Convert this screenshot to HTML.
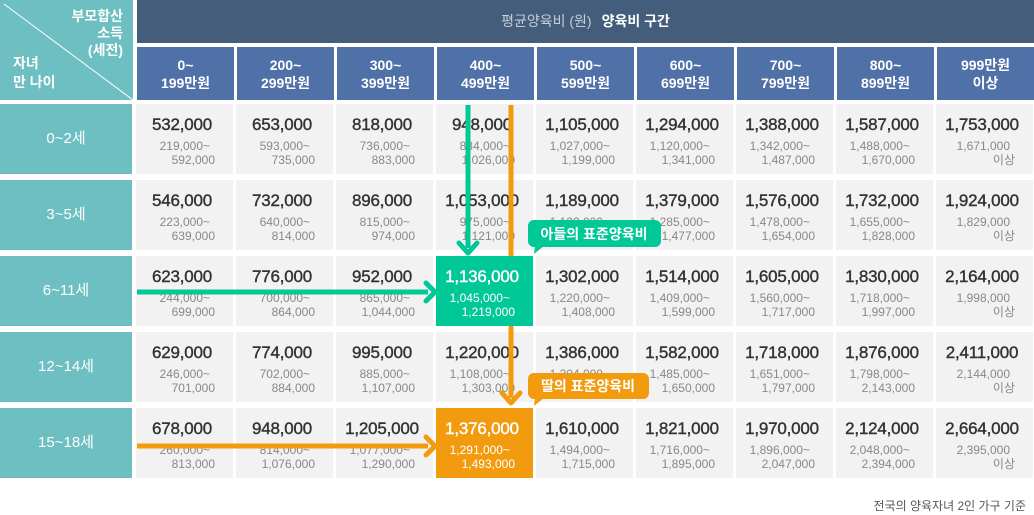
<!DOCTYPE html>
<html><head><meta charset="utf-8"><style>
body{margin:0;width:1034px;height:515px;background:#fff;position:relative;overflow:hidden;font-family:"Liberation Sans","Noto Sans CJK KR",sans-serif}
.a{position:absolute}
.top{left:137px;top:0;width:897px;height:43px;background:#435d7b;color:#fff;text-align:center;line-height:43px;font-size:14px;font-weight:bold}
.top span{color:#c5cedb;font-weight:normal;margin-right:10px}
.lh{left:0;top:0;width:133px;height:100px;background:#6dbfc1;color:#fff;font-weight:bold;font-size:14px}
.sub{top:47px;height:53px;width:97px;background:#5071a7;color:#fff;font-weight:bold;font-size:14px;text-align:center;line-height:18px;box-sizing:border-box;padding-top:9px}
.g{position:absolute;left:0;top:104px;display:grid;grid-template-columns:133px repeat(9,97px);column-gap:3px;row-gap:6px;grid-auto-rows:70px}
.g>div{background:#f2f2f2;position:relative}
.g>.l{background:#6dbfc1;color:#fff;font-size:15px;text-align:center;line-height:70px;margin-right:1px}
.m{position:absolute;top:11px;left:0;width:92px;text-align:center;font-size:17px;color:#333;-webkit-text-stroke:0.4px #333;letter-spacing:-0.2px}
.s{position:absolute;top:35px;right:18px;text-align:right;font-size:12px;color:#888;line-height:14px}
.s i{font-style:normal;margin-right:5px;display:block}
.gr{background:#00c896!important;z-index:2}.or{background:#f29b0e!important}
.gr *,.or *{color:#fff!important;-webkit-text-stroke-color:#fff!important}
.foot{right:8px;top:497px;font-size:12px;color:#555}
</style></head><body>
<div class="a top"><span>평균양육비 (원)</span>양육비 구간</div>
<div class="a lh">
<svg width="133" height="100" style="position:absolute;left:0;top:0"><line x1="4" y1="4" x2="133" y2="100" stroke="#fff" stroke-width="1"/></svg>
<div class="a" style="right:10px;top:8px;text-align:right;line-height:17px">부모합산<br>소득<br>(세전)</div>
<div class="a" style="left:13px;top:54px;line-height:19px">자녀<br>만 나이</div>
</div>
<div class="a sub" style="left:137px">0~<br>199만원</div>
<div class="a sub" style="left:237px">200~<br>299만원</div>
<div class="a sub" style="left:337px">300~<br>399만원</div>
<div class="a sub" style="left:437px">400~<br>499만원</div>
<div class="a sub" style="left:537px">500~<br>599만원</div>
<div class="a sub" style="left:637px">600~<br>699만원</div>
<div class="a sub" style="left:737px">700~<br>799만원</div>
<div class="a sub" style="left:837px">800~<br>899만원</div>
<div class="a sub" style="left:937px">999만원<br>이상</div>
<div class="g">
<div class="l">0~2세</div>
<div><div class="m">532,000</div><div class="s"><i>219,000~</i>592,000</div></div>
<div><div class="m">653,000</div><div class="s"><i>593,000~</i>735,000</div></div>
<div><div class="m">818,000</div><div class="s"><i>736,000~</i>883,000</div></div>
<div><div class="m">948,000</div><div class="s"><i>884,000~</i>1,026,000</div></div>
<div><div class="m">1,105,000</div><div class="s"><i>1,027,000~</i>1,199,000</div></div>
<div><div class="m">1,294,000</div><div class="s"><i>1,120,000~</i>1,341,000</div></div>
<div><div class="m">1,388,000</div><div class="s"><i>1,342,000~</i>1,487,000</div></div>
<div><div class="m">1,587,000</div><div class="s"><i>1,488,000~</i>1,670,000</div></div>
<div><div class="m">1,753,000</div><div class="s"><i>1,671,000</i>이상</div></div>
<div class="l">3~5세</div>
<div><div class="m">546,000</div><div class="s"><i>223,000~</i>639,000</div></div>
<div><div class="m">732,000</div><div class="s"><i>640,000~</i>814,000</div></div>
<div><div class="m">896,000</div><div class="s"><i>815,000~</i>974,000</div></div>
<div><div class="m">1,053,000</div><div class="s"><i>975,000~</i>1,121,000</div></div>
<div><div class="m">1,189,000</div><div class="s"><i>1,122,000~</i>1,284,000</div></div>
<div><div class="m">1,379,000</div><div class="s"><i>1,285,000~</i>1,477,000</div></div>
<div><div class="m">1,576,000</div><div class="s"><i>1,478,000~</i>1,654,000</div></div>
<div><div class="m">1,732,000</div><div class="s"><i>1,655,000~</i>1,828,000</div></div>
<div><div class="m">1,924,000</div><div class="s"><i>1,829,000</i>이상</div></div>
<div class="l">6~11세</div>
<div><div class="m">623,000</div><div class="s"><i>244,000~</i>699,000</div></div>
<div><div class="m">776,000</div><div class="s"><i>700,000~</i>864,000</div></div>
<div><div class="m">952,000</div><div class="s"><i>865,000~</i>1,044,000</div></div>
<div class="gr"><div class="m">1,136,000</div><div class="s"><i>1,045,000~</i>1,219,000</div></div>
<div><div class="m">1,302,000</div><div class="s"><i>1,220,000~</i>1,408,000</div></div>
<div><div class="m">1,514,000</div><div class="s"><i>1,409,000~</i>1,599,000</div></div>
<div><div class="m">1,605,000</div><div class="s"><i>1,560,000~</i>1,717,000</div></div>
<div><div class="m">1,830,000</div><div class="s"><i>1,718,000~</i>1,997,000</div></div>
<div><div class="m">2,164,000</div><div class="s"><i>1,998,000</i>이상</div></div>
<div class="l">12~14세</div>
<div><div class="m">629,000</div><div class="s"><i>246,000~</i>701,000</div></div>
<div><div class="m">774,000</div><div class="s"><i>702,000~</i>884,000</div></div>
<div><div class="m">995,000</div><div class="s"><i>885,000~</i>1,107,000</div></div>
<div><div class="m">1,220,000</div><div class="s"><i>1,108,000~</i>1,303,000</div></div>
<div><div class="m">1,386,000</div><div class="s"><i>1,304,000~</i>1,484,000</div></div>
<div><div class="m">1,582,000</div><div class="s"><i>1,485,000~</i>1,650,000</div></div>
<div><div class="m">1,718,000</div><div class="s"><i>1,651,000~</i>1,797,000</div></div>
<div><div class="m">1,876,000</div><div class="s"><i>1,798,000~</i>2,143,000</div></div>
<div><div class="m">2,411,000</div><div class="s"><i>2,144,000</i>이상</div></div>
<div class="l">15~18세</div>
<div><div class="m">678,000</div><div class="s"><i>260,000~</i>813,000</div></div>
<div><div class="m">948,000</div><div class="s"><i>814,000~</i>1,076,000</div></div>
<div><div class="m">1,205,000</div><div class="s"><i>1,077,000~</i>1,290,000</div></div>
<div class="or"><div class="m">1,376,000</div><div class="s"><i>1,291,000~</i>1,493,000</div></div>
<div><div class="m">1,610,000</div><div class="s"><i>1,494,000~</i>1,715,000</div></div>
<div><div class="m">1,821,000</div><div class="s"><i>1,716,000~</i>1,895,000</div></div>
<div><div class="m">1,970,000</div><div class="s"><i>1,896,000~</i>2,047,000</div></div>
<div><div class="m">2,124,000</div><div class="s"><i>2,048,000~</i>2,394,000</div></div>
<div><div class="m">2,664,000</div><div class="s"><i>2,395,000</i>이상</div></div>
</div>
<svg class="a" style="left:0;top:0" width="1034" height="515">
<g fill="none" stroke-width="5" stroke-linecap="butt">
<line x1="511" y1="105" x2="511" y2="256" stroke="#f29b0e"/>
<line x1="511" y1="326" x2="511" y2="398" stroke="#f29b0e"/>
<line x1="468" y1="105" x2="468" y2="248" stroke="#00c896"/>
<line x1="137" y1="292" x2="428" y2="292" stroke="#00c896"/>
<line x1="137" y1="446" x2="428" y2="446" stroke="#f29b0e"/>
<polyline points="459,243 468,253 477,243" stroke="#00c896" stroke-linejoin="round" stroke-linecap="round"/>
<polyline points="502,393 511,403 520,393" stroke="#f29b0e" stroke-linejoin="round" stroke-linecap="round"/>
<polyline points="426,283 435,292 426,301" stroke="#00c896" stroke-linejoin="round" stroke-linecap="round"/>
<polyline points="426,437 435,446 426,455" stroke="#f29b0e" stroke-linejoin="round" stroke-linecap="round"/>
</g>
<rect x="528" y="220" width="133" height="27" rx="6" fill="#00c896"/>
<polygon points="535,245 545,245 534,254" fill="#00c896"/>
<text x="594" y="239" fill="#fff" font-size="14" font-weight="bold" text-anchor="middle" font-family="Liberation Sans, Noto Sans CJK KR, sans-serif">아들의 표준양육비</text>
<rect x="528" y="373" width="121" height="26" rx="6" fill="#f29b0e"/>
<polygon points="535,397 545,397 534,406" fill="#f29b0e"/>
<text x="588" y="391" fill="#fff" font-size="14" font-weight="bold" text-anchor="middle" font-family="Liberation Sans, Noto Sans CJK KR, sans-serif">딸의 표준양육비</text>
</svg>
<div class="a foot">전국의 양육자녀 2인 가구 기준</div>
</body></html>
